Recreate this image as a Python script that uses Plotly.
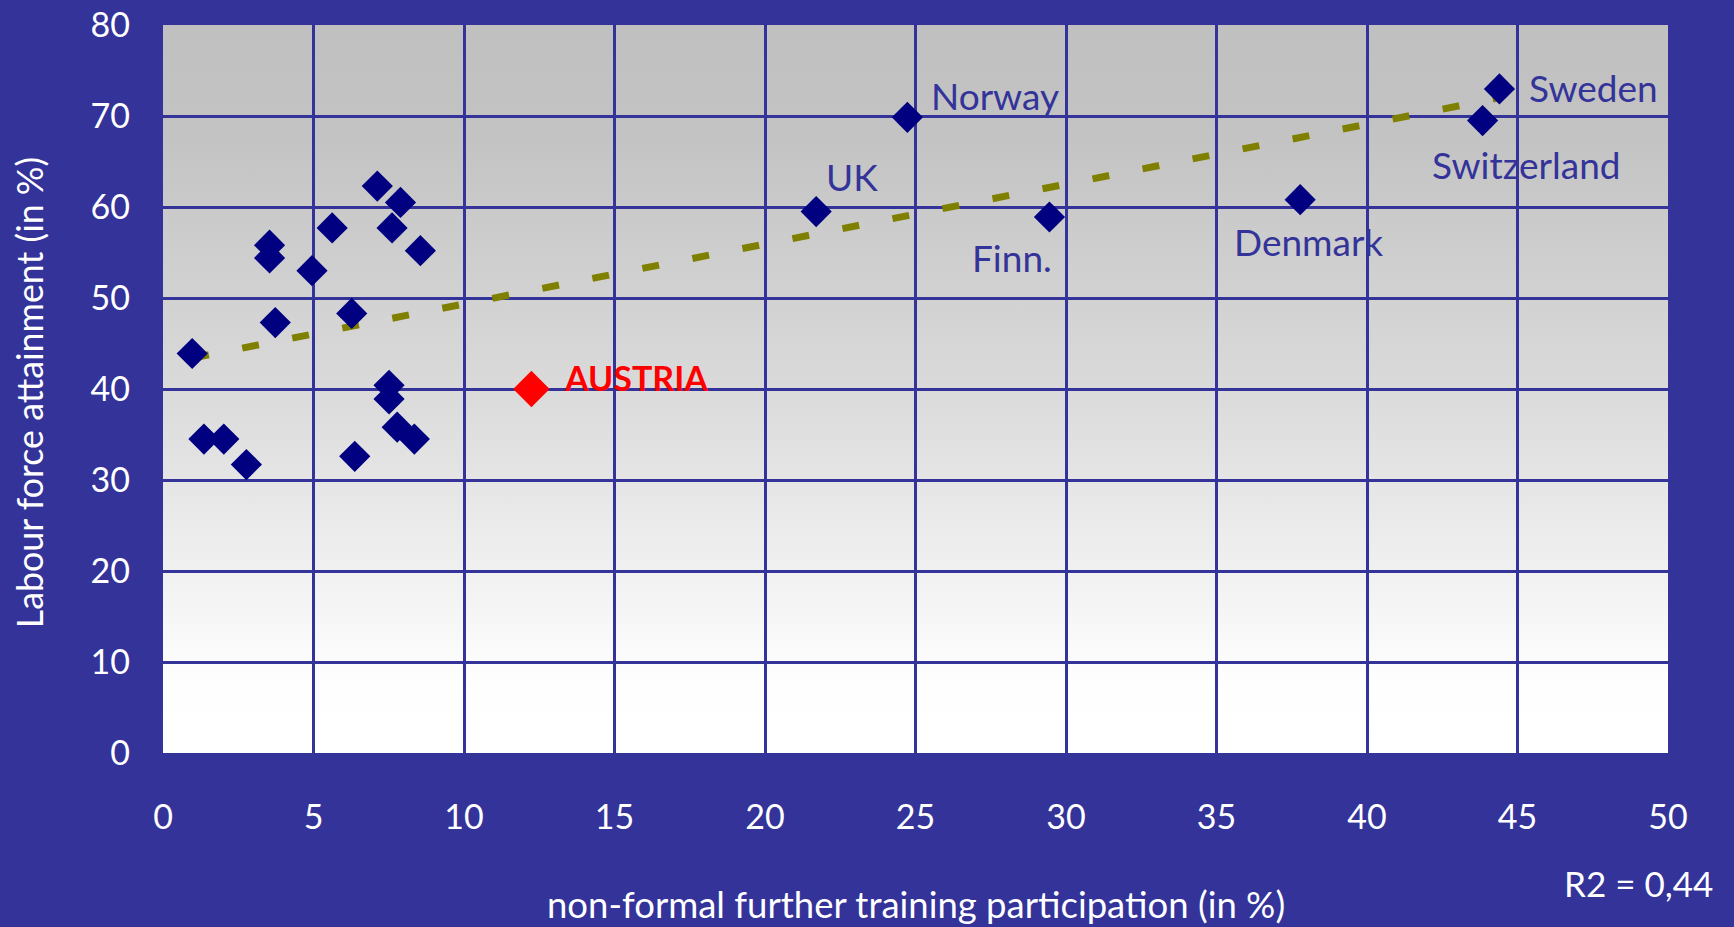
import base64
import plotly.graph_objects as go

# ---------------- data ----------------
other_x = [0.97, 1.36, 2.02, 2.77, 3.54, 3.54, 3.73, 4.95, 5.62, 6.27, 6.37, 7.12, 7.89, 7.61, 8.55,
           7.51, 7.51, 7.78, 8.35]
other_y = [43.9, 34.5, 34.5, 31.7, 55.8, 54.4, 47.3, 53.0, 57.7, 48.3, 32.6, 62.3, 60.5, 57.7, 55.2,
           40.4, 38.9, 35.8, 34.5]

named_countries = ["UK", "Norway", "Finn.", "Denmark", "Switzerland", "Sweden"]
named_x = [21.7, 24.73, 29.45, 37.78, 43.84, 44.4]
named_y = [59.5, 69.85, 58.9, 60.8, 69.5, 72.97]
label_x = [21.97, 25.46, 26.82, 35.52, 42.1, 45.3]
label_y = [63.3, 72.3, 54.4, 56.2, 64.7, 73.1]

austria_x = [12.24]
austria_y = [40.0]
austria_label = "AUSTRIA"

trend_x = [0.97, 44.4]
trend_y = [43.4, 72.0]
r2_text = "R2 = 0,44"

x_ticks = [0, 5, 10, 15, 20, 25, 30, 35, 40, 45, 50]
y_ticks = [0, 10, 20, 30, 40, 50, 60, 70, 80]
x_title = "non-formal further training participation (in %)"
y_title = "Labour force attainment (in %)"

# ---------------- style ----------------
BG = "#333399"
NAVY = "#000080"
FONT = "Lato"

svg = ("<svg xmlns='http://www.w3.org/2000/svg' width='100' height='100' preserveAspectRatio='none'>"
       "<defs><linearGradient id='g' x1='0' y1='0' x2='0' y2='1'>"
       "<stop offset='0' stop-color='#c0c0c0'/>"
       "<stop offset='0.15' stop-color='#c3c3c3'/>"
       "<stop offset='0.5' stop-color='#dadada'/>"
       "<stop offset='0.9' stop-color='#fefefe'/>"
       "<stop offset='1' stop-color='#ffffff'/>"
       "</linearGradient></defs><rect width='100' height='100' fill='url(#g)'/></svg>")
svg_uri = "data:image/svg+xml;base64," + base64.b64encode(svg.encode()).decode()

fig = go.Figure()

fig.add_trace(go.Scatter(
    x=trend_x, y=trend_y, mode="lines",
    line=dict(color="#808000", width=7, dash="17px,34px"),
    hoverinfo="skip", showlegend=False))

fig.add_trace(go.Scatter(
    x=other_x + named_x, y=other_y + named_y, mode="markers",
    marker=dict(symbol="diamond", size=24, color=NAVY, line=dict(width=0)),
    showlegend=False))
fig.add_trace(go.Scatter(
    x=austria_x, y=austria_y, mode="markers",
    marker=dict(symbol="diamond", size=28, color="#ff0000", line=dict(width=0)),
    showlegend=False))

annotations = []
for name, lx, ly in zip(named_countries, label_x, label_y):
    annotations.append(dict(x=lx, y=ly, xref="x", yref="y", text=name, showarrow=False,
                            xanchor="left", yanchor="middle",
                            font=dict(family=FONT, size=37, color=BG)))
annotations.append(dict(x=13.27, y=41.3, xref="x", yref="y", text="<b>" + austria_label + "</b>",
                        showarrow=False, xanchor="left", yanchor="middle",
                        font=dict(family=FONT, size=34, color="#ff0000")))
annotations.append(dict(x=0.5, y=-0.207, xref="paper", yref="paper", text=x_title, showarrow=False,
                        xanchor="center", yanchor="middle",
                        font=dict(family=FONT, size=36.5, color="white")))
annotations.append(dict(x=-0.0887, y=0.495, xref="paper", yref="paper", text=y_title, showarrow=False,
                        textangle=-90, xanchor="center", yanchor="middle",
                        font=dict(family=FONT, size=35.8, color="white")))
annotations.append(dict(x=1.0312, y=-0.1786, xref="paper", yref="paper", text=r2_text, showarrow=False,
                        xanchor="right", yanchor="middle",
                        font=dict(family=FONT, size=35, color="white")))

fig.update_layout(
    width=1734, height=927,
    margin=dict(l=162.5, r=66, t=25, b=174, pad=0, autoexpand=False),
    paper_bgcolor=BG, plot_bgcolor=BG,
    annotations=annotations,
    images=[dict(source=svg_uri, xref="x", yref="y", x=0, y=80, sizex=50, sizey=80,
                 sizing="stretch", layer="below", xanchor="left", yanchor="top")],
    xaxis=dict(range=[0, 50], tickvals=x_ticks, showgrid=True, gridcolor=BG, gridwidth=2.5,
               zeroline=False, showline=False, ticks="", ticklabelstandoff=41, automargin=False,
               tickfont=dict(family=FONT, size=34, color="white")),
    yaxis=dict(range=[0, 80], tickvals=y_ticks, showgrid=True, gridcolor=BG, gridwidth=2.5,
               zeroline=False, showline=False, ticks="", ticklabelstandoff=32, automargin=False,
               tickfont=dict(family=FONT, size=34, color="white")),
    showlegend=False,
)

fig.write_html("out.html", config={"displayModeBar": False},
               post_script="document.body.style.margin='0';document.body.style.overflow='hidden';")
